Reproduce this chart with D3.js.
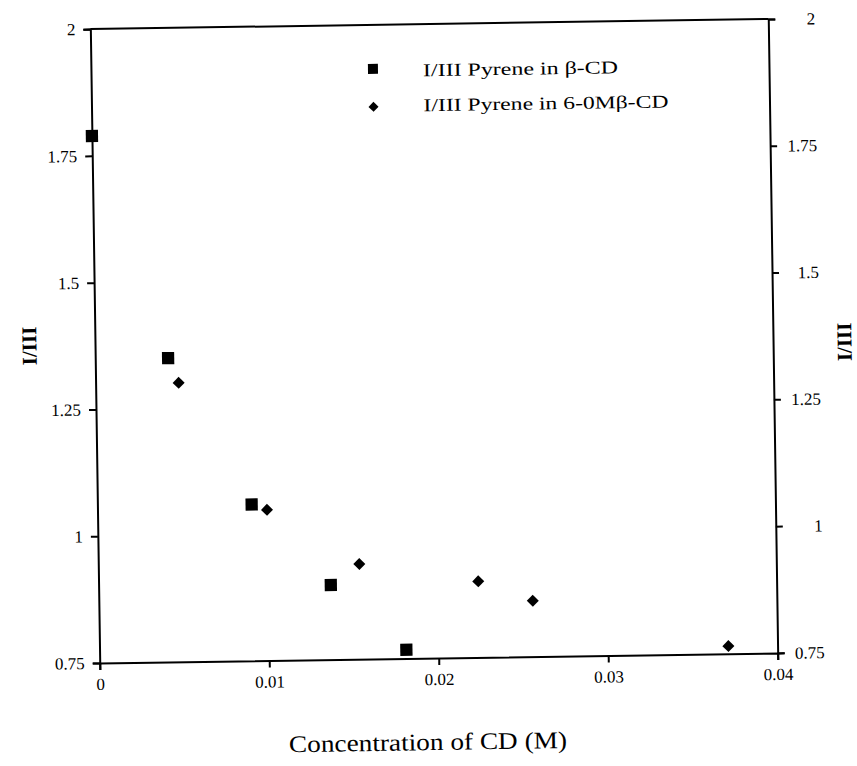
<!DOCTYPE html>
<html>
<head>
<meta charset="utf-8">
<script src="https://cdn.jsdelivr.net/npm/d3@7"></script>
<style>
body { margin: 0; background: #fff; }
</style>
</head>
<body>
<div class="viz"></div>
<script>
// data
const xTicks = [0, 0.01, 0.02, 0.03, 0.04];
const yTicks = [0.75, 1, 1.25, 1.5, 1.75, 2];
const betaConc = [0, 0.0043, 0.0091, 0.0137, 0.0181];
const betaRatio = [1.789, 1.349, 1.058, 0.897, 0.767];
const omConc = [0.0049, 0.0100, 0.0154, 0.0224, 0.0256, 0.0371];
const omRatio = [1.30, 1.047, 0.9375, 0.90, 0.86, 0.765];
const seriesNames = ["I/III Pyrene in β-CD", "I/III Pyrene in 6-0Mβ-CD"];

const serif = '"Liberation Serif", "Times New Roman", Times, serif';

const margin = { top: 24, bottom: 108, left: 95, right: 84 };
const W = 857, H = 766;
const width = W - margin.left - margin.right;
const height = H - margin.top - margin.bottom;

// the original is a slightly tilted scan
const tilt = -0.85;

const svg = d3.select('.viz')
    .append('svg')
    .attr('width', W)
    .attr('height', H)
    .style('font-family', serif);

const g = svg.append('g')
    .attr('transform', `rotate(${tilt},${margin.left + width / 2},${margin.top + height / 2}) translate(${margin.left},${margin.top})`);

/* SCALES */
const x = d3.scaleLinear().domain([0, 0.04]).range([0, width]);
const y = d3.scaleLinear().domain([0.75, 2]).range([height, 0]);

/* AXES */
function styleAxis(sel) {
    sel.attr('font-family', serif).attr('font-size', 17);
    sel.selectAll('path, line').attr('stroke', '#000').attr('stroke-width', 2);
    sel.selectAll('text').attr('fill', '#000').style('font-family', serif).style('font-size', '17px');
}

g.append('g')
    .attr('transform', `translate(0,${height})`)
    .call(d3.axisBottom(x).tickValues(xTicks).tickFormat(d => String(d)).tickSize(7).tickPadding(8))
    .call(styleAxis);

g.append('g')
    .call(d3.axisLeft(y).tickValues(yTicks).tickFormat(d => String(d)).tickSize(7).tickPadding(8))
    .call(styleAxis);

const right = g.append('g')
    .attr('transform', `translate(${width},0)`)
    .call(d3.axisRight(y).tickValues(yTicks).tickFormat(d => String(d)).tickSize(7).tickPadding(8))
    .call(styleAxis);
right.selectAll('text').attr('text-anchor', 'end').attr('x', 47);

// top border
g.append('line')
    .attr('x1', 0).attr('x2', width)
    .attr('y1', 0).attr('y2', 0)
    .attr('stroke', '#000').attr('stroke-width', 2);

/* AXIS TITLES */
g.append('text')
    .attr('x', width / 2 - 12)
    .attr('y', height + 92)
    .attr('text-anchor', 'middle')
    .attr('textLength', 278)
    .attr('lengthAdjust', 'spacingAndGlyphs')
    .style('font-family', serif)
    .style('font-size', '24px')
    .text('Concentration of CD (M)');

g.append('text')
    .attr('transform', `translate(-66,${height / 2 - 1}) rotate(-90)`)
    .attr('text-anchor', 'middle')
    .attr('dy', '0.35em')
    .style('font-family', serif)
    .style('font-size', '21px')
    .style('font-weight', 'bold')
    .text('I/III');

g.append('text')
    .attr('transform', `translate(${width + 71},${height / 2 + 7}) rotate(-90)`)
    .attr('text-anchor', 'middle')
    .attr('dy', '0.35em')
    .style('font-family', serif)
    .style('font-size', '21px')
    .style('font-weight', 'bold')
    .text('I/III');

/* POINTS */
const squarePts = betaConc.map((c, i) => ({ c: c, v: betaRatio[i] }));
const diamondPts = omConc.map((c, i) => ({ c: c, v: omRatio[i] }));

g.selectAll('.sq')
    .data(squarePts)
    .enter()
    .append('path')
    .attr('class', 'sq')
    .attr('d', d3.symbol(d3.symbolSquare, 150))
    .attr('transform', d => `translate(${x(d.c)},${y(d.v)})`)
    .attr('fill', '#000');

g.selectAll('.dm')
    .data(diamondPts)
    .enter()
    .append('path')
    .attr('class', 'dm')
    .attr('d', d3.symbol(d3.symbolSquare, 72))
    .attr('transform', d => `translate(${x(d.c)},${y(d.v)}) rotate(45)`)
    .attr('fill', '#000');

/* LEGEND */
const legX = 282, legY = 44, legGap = 38;
const leg = g.append('g');

leg.append('path')
    .attr('d', d3.symbol(d3.symbolSquare, 100))
    .attr('transform', `translate(${legX},${legY})`)
    .attr('fill', '#000');

leg.append('path')
    .attr('d', d3.symbol(d3.symbolSquare, 50))
    .attr('transform', `translate(${legX},${legY + legGap}) rotate(45)`)
    .attr('fill', '#000');

leg.selectAll('text')
    .data(seriesNames)
    .enter()
    .append('text')
    .attr('x', legX + 50)
    .attr('y', (d, i) => legY + 8 + i * 35)
    .attr('textLength', (d, i) => i === 0 ? 195 : 245)
    .attr('lengthAdjust', 'spacingAndGlyphs')
    .style('font-family', serif)
    .style('font-size', '18px')
    .text(d => d);
</script>
</body>
</html>
